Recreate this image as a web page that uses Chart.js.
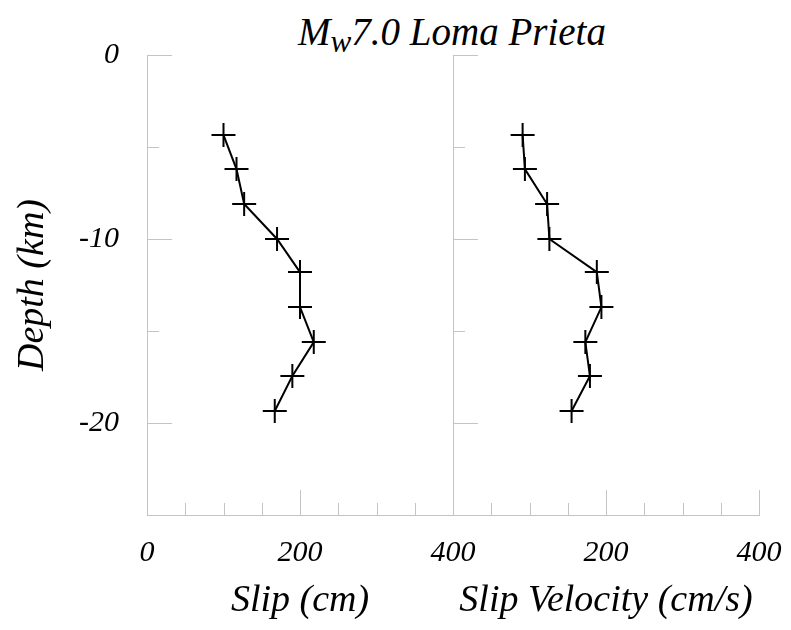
<!DOCTYPE html>
<html>
<head>
<meta charset="utf-8">
<title>Mw7.0 Loma Prieta</title>
<script src="https://cdn.jsdelivr.net/npm/chart.js@4.4.1/dist/chart.umd.min.js"></script>
<style>
  html, body { margin: 0; padding: 0; background: #fff; }
  #wrap { position: relative; width: 791px; height: 630px; overflow: hidden; }
  #wrap canvas { position: absolute; left: 0; top: 0; }
  #title {
    position: absolute; top: 9px; left: 452px; transform: translateX(-50%);
    white-space: nowrap; color: #000; line-height: 1;
    font: italic 39px 'Liberation Serif', 'Times New Roman', serif;
  }
  #title sub { font-size: 0.8em; vertical-align: -0.22em; line-height: 0; }
</style>
</head>
<body>
<div id="wrap">
  <div id="title">M<sub>w</sub>7.0 Loma Prieta</div>
  <canvas id="chart-slip" width="791" height="630"></canvas>
  <canvas id="chart-vel" width="840" height="630"></canvas>
</div>
<script>
// --- data -------------------------------------------------------------
const DEPTH    = [-4.35, -6.2, -8.1, -10, -11.8, -13.7, -15.6, -17.45, -19.35]; // km
const SLIP     = [100, 117, 127, 170, 200, 200, 218, 190, 167];                  // cm
const SLIP_VEL = [91, 94, 123, 126, 188, 194, 173, 179, 155];                    // cm/s

const Y_LABELS      = [0, -10, -20];
const X_LABELS_SLIP = [0, 200, 400];
const X_LABELS_VEL  = [200, 400];

const GRID = '#c4c4c4';
const TICK_FONT = { family: "'Liberation Serif', serif", style: 'italic', size: 30 };
const AXIS_FONT = { family: "'Liberation Serif', serif", style: 'italic', size: 38 };

// small inward tick marks, long on the labelled values
const inwardTicks = {
  id: 'inwardTicks',
  beforeDatasetsDraw(chart) {
    const { ctx, chartArea: a, scales: { x, y } } = chart;
    ctx.save();
    ctx.strokeStyle = GRID;
    ctx.lineWidth = 1;
    ctx.beginPath();
    y.ticks.forEach(function (t) {
      const py = Math.round(y.getPixelForValue(t.value)) + 0.5;
      const len = t.value % 10 === 0 ? 25 : 12;
      ctx.moveTo(a.left, py); ctx.lineTo(a.left + len, py);
    });
    x.ticks.forEach(function (t) {
      const px = Math.round(x.getPixelForValue(t.value)) + 0.5;
      const len = t.value % 200 === 0 ? 25 : 12;
      ctx.moveTo(px, a.bottom); ctx.lineTo(px, a.bottom - len);
    });
    ctx.stroke();
    ctx.restore();
  }
};

function points(xs) {
  return DEPTH.map(function (d, i) { return { x: xs[i], y: d }; });
}

function panel(id, xs, xTitle, xLabels, showY, pad) {
  return new Chart(document.getElementById(id), {
    type: 'scatter',
    data: {
      datasets: [{
        data: points(xs),
        showLine: true,
        borderColor: '#000', borderWidth: 2,
        pointStyle: 'cross', pointRadius: 12, pointBorderWidth: 2,
        pointBorderColor: '#000', pointBackgroundColor: '#000',
      }],
    },
    options: {
      responsive: false, animation: false,
      layout: { padding: pad },
      plugins: { legend: { display: false }, tooltip: { enabled: false } },
      scales: {
        x: {
          type: 'linear', min: 0, max: 400,
          grid: { drawOnChartArea: false, drawTicks: false },
          border: { color: GRID, width: 1 },
          ticks: {
            stepSize: 50, autoSkip: false, maxRotation: 0, padding: 20,
            color: '#000', font: TICK_FONT,
            callback: function (v) { return xLabels.includes(v) ? String(v) : ''; },
          },
          title: { display: true, text: xTitle, color: '#000', font: AXIS_FONT, padding: { top: 0, bottom: 6 } },
          afterFit: function (s) { s.height = 115; },
        },
        y: {
          type: 'linear', min: -25, max: 0,
          grid: { drawOnChartArea: false, drawTicks: false },
          border: { color: GRID, width: 1 },
          ticks: {
            display: showY, stepSize: 5, autoSkip: false, padding: 28,
            color: '#000', font: TICK_FONT,
            callback: function (v) { return Y_LABELS.includes(v) ? String(v) : ''; },
          },
          title: { display: showY, text: 'Depth (km)', color: '#000', font: AXIS_FONT, padding: { top: 10, bottom: 0 } },
          afterFit: function (s) { s.width = showY ? 147 : 0; },
        },
      },
    },
    plugins: [inwardTicks],
  });
}

panel('chart-slip', SLIP, 'Slip (cm)', X_LABELS_SLIP, true, { left: 0, right: 338, top: 55, bottom: 0 });
// canvas is wider than the page so the last tick label does not squeeze the plot
panel('chart-vel', SLIP_VEL, 'Slip Velocity (cm/s)', X_LABELS_VEL, false, { left: 453, right: 81, top: 55, bottom: 0 });
</script>
</body>
</html>
